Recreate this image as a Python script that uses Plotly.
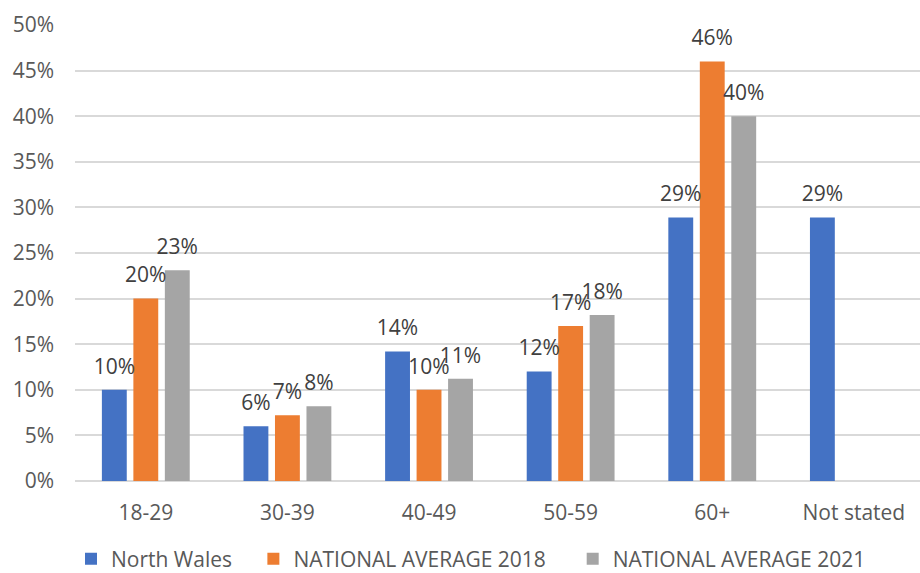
import plotly.graph_objects as go

categories = ["18-29", "30-39", "40-49", "50-59", "60+", "Not stated"]
north_wales = [0.10, 0.06, 0.142, 0.12, 0.289, 0.289]
nat_2018 = [0.20, 0.072, 0.10, 0.17, 0.46, None]
nat_2021 = [0.231, 0.082, 0.112, 0.182, 0.40, None]
series_names = ["North Wales", "NATIONAL AVERAGE 2018", "NATIONAL AVERAGE 2021"]
colors = ["#4472C4", "#ED7D31", "#A5A5A5"]
y_ticks = [i / 100 for i in range(0, 55, 5)]

FONT = "Open Sans"
AXIS_TXT = "#595959"
LABEL_TXT = "#404040"
FS = 21
BARGAP = 0.333

def labels(vals):
    return ["" if v is None else f"{round(v*100):d}%" for v in vals]

fig = go.Figure()
all_series = [north_wales, nat_2018, nat_2021]
pads = ["\u00a0\u00a0\u00a0", "\u00a0\u00a0\u00a0\u00a0", ""]
for i, (name, vals, col) in enumerate(zip(series_names, all_series, colors)):
    fig.add_trace(go.Bar(
        x=categories, y=vals, name=name + pads[i], offsetgroup=str(i),
        marker=dict(color=col, line=dict(width=0)),
        hoverinfo="skip",
    ))
for i, vals in enumerate(all_series):
    fig.add_trace(go.Scatter(
        x=categories, y=vals, mode="markers+text", offsetgroup=str(i),
        text=labels(vals), textposition="top center",
        marker=dict(size=16, opacity=0),
        textfont=dict(family=FONT, size=FS, color=LABEL_TXT),
        showlegend=False, cliponaxis=False, hoverinfo="skip",
    ))

fig.update_layout(
    width=920, height=573,
    margin=dict(l=75, r=0, t=25, b=92),
    paper_bgcolor="white", plot_bgcolor="white",
    barmode="group", bargap=BARGAP, bargroupgap=0.21,
    scattermode="group", scattergap=BARGAP,
    font=dict(family=FONT, size=FS, color=AXIS_TXT),
    showlegend=True,
    legend=dict(orientation="h", x=71 / 920, y=14 / 573, xref="container",
                yref="container", xanchor="left", yanchor="middle",
                font=dict(family=FONT, size=FS, color=AXIS_TXT),
                tracegroupgap=0),
)
fig.update_yaxes(range=[0, 0.5], tickvals=y_ticks, tickformat=".0%",
                 showgrid=True, gridcolor="#D9D9D9", gridwidth=1.5,
                 zeroline=True, zerolinecolor="#D9D9D9", zerolinewidth=1.5,
                 showline=False, ticks="", ticklabelstandoff=20,
                 tickfont=dict(family=FONT, size=FS, color=AXIS_TXT))
fig.update_xaxes(range=[-0.5, 5.467], showline=False, ticks="",
                 ticklabelstandoff=17,
                 tickfont=dict(family=FONT, size=FS, color=AXIS_TXT))

fig.write_html("out.html")
